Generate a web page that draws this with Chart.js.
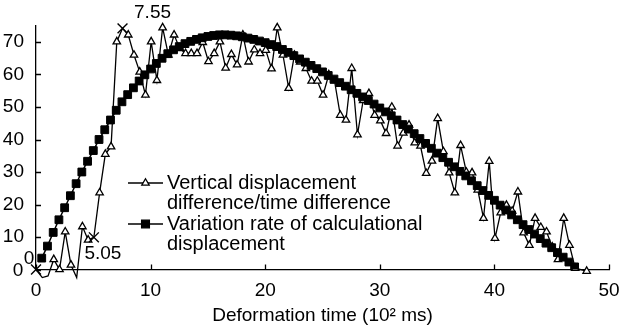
<!DOCTYPE html>
<html>
<head>
<meta charset="utf-8">
<script src="https://cdn.jsdelivr.net/npm/chart.js@4.4.0/dist/chart.umd.min.js"></script>
<style>
    html, body { margin: 0; padding: 0; background: #fff; }
    #wrap { width: 624px; height: 331px; }
</style>
</head>
<body>
<div id="wrap"><canvas id="myChart" width="624" height="331"></canvas></div>
<script>
"use strict";

// measured series: vertical displacement difference / time difference
const triTime = [0, 0.55, 1.05, 1.55, 2.05, 2.55, 3.05, 3.55, 4.05, 4.55,
    5.05, 5.55, 6.05, 6.55, 7.05, 7.55, 8.05, 8.55, 9.05, 9.55,
    10.05, 10.55, 11.05, 11.55, 12.05, 12.55, 13.05, 13.55, 14.05, 14.55,
    15.05, 15.55, 16.05, 16.55, 17.05, 17.55, 18.05, 18.55, 19.05, 19.55,
    20.05, 20.55, 21.05, 21.55, 22.05, 22.55, 23.05, 23.55, 24.05, 24.55,
    25.05, 25.55, 26.05, 26.55, 27.05, 27.55, 28.05, 28.55, 29.05, 29.55,
    30.05, 30.55, 31.05, 31.55, 32.05, 32.55, 33.05, 33.55, 34.05, 34.55,
    35.05, 35.55, 36.05, 36.55, 37.05, 37.55, 38.05, 38.55, 39.05, 39.55,
    40.05, 40.55, 41.05, 41.55, 42.05, 42.55, 43.05, 43.55, 44.05, 44.55,
    45.05, 45.55, 46.05, 46.55, 47.05, 48.05];
const triRate = [0, -2.5, -2, 3.1, 0, 11.6, 1.4, -2.5, 13.2, 9.1,
    9.9, 23.6, 35.5, 37.8, 70.1, 74.2, 72.2, 66, 60.8, 53.7,
    70.1, 58.2, 74.4, 66, 72.2, 68, 66.5, 66.5, 66.5, 69.9,
    64, 66.5, 70.1, 62, 66.2, 63, 72.2, 63.9, 67.6, 66.5,
    67.5, 61.8, 74.4, 66, 55.8, 66, 63.9, 61.9, 58, 58,
    53.7, 60, 58, 47.5, 46, 61.9, 41.5, 52, 54.2, 47.5,
    45.8, 41.9, 50, 38, 42, 44.5, 39, 38, 29.6, 33.4,
    46.5, 36.3, 29.8, 23.6, 38.2, 30, 29.8, 24.5, 15.8, 33.3,
    9.6, 17.5, 19.8, 18, 23.9, 11.3, 7.5, 15.8, 13, 11.6,
    7, 3.1, 15.8, 7.5, 0.4, -0.5];

// calculated series: variation rate of calculational displacement
const sqTime = [0.5, 1, 1.5, 2, 2.5, 3, 3.5, 4, 4.5, 5,
    5.5, 6, 6.5, 7, 7.5, 8, 8.5, 9, 9.5, 10,
    10.5, 11, 11.5, 12, 12.5, 13, 13.5, 14, 14.5, 15,
    15.5, 16, 16.5, 17, 17.5, 18, 18.5, 19, 19.5, 20,
    20.5, 21, 21.5, 22, 22.5, 23, 23.5, 24, 24.5, 25,
    25.5, 26, 26.5, 27, 27.5, 28, 28.5, 29, 29.5, 30,
    30.5, 31, 31.5, 32, 32.5, 33, 33.5, 34, 34.5, 35,
    35.5, 36, 36.5, 37, 37.5, 38, 38.5, 39, 39.5, 40,
    40.5, 41, 41.5, 42, 42.5, 43, 43.5, 44, 44.5, 45,
    45.5, 46, 46.5, 47];
const sqRate = [3.5, 7.2, 11.4, 15.3, 19, 22.7, 26.4, 30, 33.3, 36.6,
    40, 43, 46, 49, 51.6, 53.8, 55.9, 58, 59.9, 61.7,
    63.4, 65, 66.4, 67.6, 68.6, 69.5, 70.2, 70.8, 71.3, 71.7,
    72, 72.2, 72.2, 72.1, 71.9, 71.6, 71.2, 70.8, 70.3, 69.8,
    69.2, 68.6, 67.7, 66.8, 65.8, 64.8, 63.8, 62.8, 61.8, 60.8,
    59.7, 58.6, 57.5, 56.4, 55.3, 54.2, 53.1, 52, 50.9, 49.7,
    48.5, 47.3, 46, 44.6, 43.2, 41.8, 40.3, 38.8, 37.3, 35.8,
    34.4, 33, 31.6, 30.2, 28.8, 27.3, 25.8, 24.3, 22.8, 21.3,
    19.8, 18.3, 16.8, 15.3, 13.8, 12.3, 10.9, 9.5, 8.1, 6.7,
    5.2, 3.8, 2.3, 0.8];

// points marked with a cross and their labels
const markedTimes = [0, 5.05, 7.55];
const markedLabels = ["0", "5.05", "7.55"];

const seriesNames = [
    ["Vertical displacement", "difference/time difference"],
    ["Variation rate of calculational", "displacement"]
];
const xTitle = "Deformation time (10\u00b2 ms)";

const FONT = "'Liberation Sans', Arial, sans-serif";

function toPoints(xs, ys) {
    return xs.map((x, i) => ({ x: x, y: ys[i] }));
}

const extras = {
    id: "extras",
    afterDatasetsDraw(chart) {
        const ctx = chart.ctx;
        const xs = chart.scales.x;
        const ys = chart.scales.y;
        const area = chart.chartArea;
        ctx.save();
        ctx.strokeStyle = "#000";
        ctx.fillStyle = "#000";
        ctx.lineWidth = 1.3;

        // inward tick marks
        ctx.beginPath();
        ys.ticks.forEach(t => {
            const py = Math.round(ys.getPixelForValue(t.value)) + 0.5;
            ctx.moveTo(area.left, py);
            ctx.lineTo(area.left + 5, py);
        });
        xs.ticks.forEach(t => {
            const px = Math.round(xs.getPixelForValue(t.value)) + 0.5;
            ctx.moveTo(px, area.bottom);
            ctx.lineTo(px, area.bottom - 5);
        });
        ctx.stroke();

        // y zero label sits apart from the others
        ctx.font = "19px " + FONT;
        ctx.textAlign = "center";
        ctx.textBaseline = "middle";
        ctx.fillText("0", area.left - 18, ys.getPixelForValue(0) + 1);

        // labels of the marked points
        const meta = chart.getDatasetMeta(0);
        const offsets = [[-7, -10.5], [9, 16], [30, -16]];
        markedTimes.forEach((t, j) => {
            const el = meta.data[triTime.indexOf(t)];
            ctx.fillText(markedLabels[j], el.x + offsets[j][0], el.y + offsets[j][1]);
        });

        // legend
        const lx = 128, tx = 167;
        const rows = [183, 224];
        const styles = [
            { pointStyle: "triangle", radius: 4.3, borderWidth: 1.3, fill: "#fff" },
            { pointStyle: "rect", radius: 5.5, borderWidth: 1, fill: "#000" }
        ];
        ctx.font = "20px " + FONT;
        ctx.textAlign = "left";
        rows.forEach((ry, i) => {
            ctx.lineWidth = 1.3;
            ctx.beginPath();
            ctx.moveTo(lx, ry);
            ctx.lineTo(lx + 35, ry);
            ctx.stroke();
            ctx.fillStyle = styles[i].fill;
            Chart.helpers.drawPoint(ctx, styles[i], lx + 17.5, ry);
            ctx.fillStyle = "#000";
            seriesNames[i].forEach((line, k) => {
                ctx.fillText(line, tx, ry + k * 20.5);
            });
        });
        ctx.restore();
    }
};

const ctx = document.getElementById("myChart").getContext("2d");
const chart = new Chart(ctx, {
    type: "line",
    data: {
        datasets: [
            {
                label: seriesNames[0].join(" "),
                data: toPoints(triTime, triRate),
                borderColor: "#000",
                borderWidth: 1.3,
                backgroundColor: "#fff",
                pointBackgroundColor: "#fff",
                pointBorderColor: "#000",
                pointStyle: c => markedTimes.includes(triTime[c.dataIndex]) ? "crossRot" : "triangle",
                pointRadius: c => {
                    if (markedTimes.includes(triTime[c.dataIndex])) return 7;
                    return triRate[c.dataIndex] < -1 ? 0 : 4.3;
                },
                pointBorderWidth: c => markedTimes.includes(triTime[c.dataIndex]) ? 1.4 : 1.3,
                tension: 0,
                clip: false,
                order: 1
            },
            {
                label: seriesNames[1].join(" "),
                data: toPoints(sqTime, sqRate),
                borderColor: "#000",
                borderWidth: 1.5,
                backgroundColor: "#000",
                pointBackgroundColor: "#000",
                pointBorderColor: "#000",
                pointStyle: "rect",
                pointRadius: 5.5,
                pointBorderWidth: 1,
                tension: 0,
                order: 0
            }
        ]
    },
    options: {
        responsive: false,
        animation: false,
        devicePixelRatio: 1,
        layout: { padding: { left: 0, right: 15, top: 25.75, bottom: 0 } },
        plugins: {
            legend: { display: false },
            tooltip: { enabled: false }
        },
        scales: {
            x: {
                type: "linear",
                min: 0,
                max: 50,
                afterFit: s => { s.height = 61.5; },
                grid: { display: false },
                border: { display: true, color: "#000", width: 1.3 },
                ticks: {
                    stepSize: 10,
                    padding: 2,
                    color: "#000",
                    maxRotation: 0,
                    font: { family: FONT, size: 19 }
                },
                title: {
                    display: true,
                    text: xTitle,
                    color: "#000",
                    padding: { top: 0, bottom: 4 },
                    font: { family: FONT, size: 19 }
                }
            },
            y: {
                type: "linear",
                min: 0,
                max: 75,
                afterFit: s => { s.width = 36; },
                grid: { display: false },
                border: { display: true, color: "#000", width: 1.3 },
                ticks: {
                    stepSize: 10,
                    includeBounds: false,
                    padding: 4,
                    color: "#000",
                    font: { family: FONT, size: 19 },
                    callback: v => (v === 0 ? "" : v)
                }
            }
        }
    },
    plugins: [extras]
});
</script>
</body>
</html>
